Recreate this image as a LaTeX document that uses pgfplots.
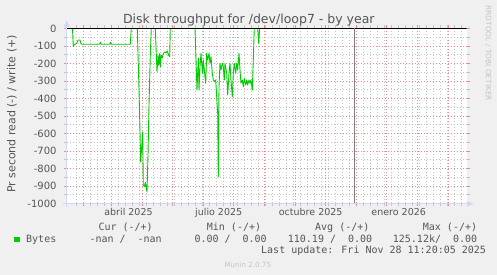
\documentclass[border=0pt]{standalone}
\usepackage{pgfplots}
\pgfplotsset{compat=1.18}
\usepackage{fontspec}
\setmainfont{DejaVu Sans}
\newfontfamily\monofont{DejaVu Sans Mono}
\definecolor{bgcol}{HTML}{F0F0F0}
\definecolor{axiscol}{HTML}{CFD6F8}
\definecolor{fontcol}{HTML}{555555}
\definecolor{mgrid}{RGB}{232,140,140}
\definecolor{mingrid}{RGB}{195,195,195}
\definecolor{mgreen}{HTML}{00CC00}
\definecolor{wmark}{HTML}{C4C4C4}
\definecolor{nowcol}{HTML}{7F7F7F}
\begin{document}
\begin{tikzpicture}
\fill[bgcol] (0,0) rectangle (497bp,275bp);
\path[use as bounding box] (0,0) rectangle (497bp,275bp);
\begin{axis}[
  at={(66.7bp,71.7bp)}, anchor=south west,
  scale only axis, width=400bp, height=175bp,
  xmin=14, xmax=414, ymin=-1000, ymax=0,
  axis background/.style={fill=white},
  axis line style={draw=none},
  xtick={31,59,90,120,151,181,212,243,273,304,334,365,396},
  xticklabels={,,,,,,,,,,,,},
  minor xtick={23.3,30.3,...,410},
  ytick={-1000,-900,...,0},
  yticklabels={-1000,-900,-800,-700,-600,-500,-400,-300,-200,-100,0},
  minor ytick={-950,-850,...,-50},
  grid=both,
  major grid style={draw=mgrid, line width=0.5bp, dash pattern=on 1bp off 2bp},
  minor grid style={draw=mingrid, line width=0.5bp, dash pattern=on 1bp off 2bp},
  tick align=outside,
  major tick length=3bp, minor tick length=3bp,
  major tick style={draw=mgrid, line width=0.5bp},
  minor tick style={draw=mingrid, line width=0.5bp},
  extra x ticks={75.8,166,258,346},
  extra x tick labels={abril 2025,julio 2025,octubre 2025,enero 2026},
  extra x tick style={grid=none, major tick length=0pt, tick style={draw=none}},
  xticklabel style={font=\fontsize{9.5bp}{11bp}\selectfont, text=fontcol, anchor=base, inner sep=0pt, yshift=-11.7bp},
  yticklabel style={font=\fontsize{10bp}{12bp}\selectfont, text=fontcol, anchor=base east, inner sep=0pt, xshift=-7bp, yshift=-3.8bp},
]
\addplot[mgreen, line width=0.9bp, line join=round] coordinates {
(19.8,0) (20.6,-105) (21.3,-95) (24,-86) (25.6,-67) (27.3,-67) (28.3,-88) (29,-91)
(47,-91) (47.6,-80) (48.6,-91) (57,-91) (57.6,-80) (58.6,-91) (77.6,-91) (78.6,0)
(84.6,0) (86.3,-345) (88,-764) (90,-593) (90.6,-897) (91.8,-905) (92.6,-880) (93.3,-900)
(94.3,-935) (95.3,-726) (96.3,-440) (97.6,-154) (98.6,0) (102.6,0) (104.3,-250) (105.3,-154)
(106,-211) (107,-145) (107.6,-220) (108.6,-154) (109.6,-170) (110.6,-145) (112,-135)
(113.3,-140) (114.6,-130) (116,-154) (117,-163) (117.6,0)
(142.3,0) (144.3,-353) (145.6,-171) (146.3,-353) (147.3,-219) (148.3,-143) (149,-200)
(150,-257) (150.6,-181) (151.6,-238) (153,-314) (154,-143) (155,-181) (156.3,-143)
(157.3,-200) (158.3,-162) (159.6,-257) (160.6,-295) (161.6,-305) (163,-295) (164,-391)
(165,-486) (165.6,-848) (166.3,-334) (167.3,-200) (168.3,-238) (169.6,-200) (170.6,-219)
(171.6,-295) (172.3,-200) (174,-257) (175,-381) (176.3,-257) (177.3,-200) (178.3,-295)
(179.6,-391) (180.6,-257) (181.6,-200) (183,-257) (184,-200) (185,-238) (186.3,-143)
(187.3,-238) (188.3,-314) (189.6,-295) (190.6,-334) (191.6,-286) (193,-324) (194,-295)
(195,-324) (196.3,-295) (197.3,-314) (198.3,-295) (199.6,-353) (200.6,-181) (201.6,0)
(205,0) (206,-86) (207,0)
};
\draw[black, line width=1.1bp] (axis cs:14,0) -- (axis cs:414,0);
\draw[nowcol, line width=1bp] (axis cs:301.6,-1000) -- (axis cs:301.6,0);
\end{axis}
% axes with arrows
\draw[axiscol, line width=1bp] (63bp,71.2bp) -- (467bp,71.2bp);
\fill[axiscol] (467bp,68.2bp) -- (473.5bp,71.2bp) -- (467bp,74.2bp) -- cycle;
\draw[axiscol, line width=1bp] (66.7bp,68bp) -- (66.7bp,248bp);
\fill[axiscol] (63.7bp,248bp) -- (66.7bp,254.5bp) -- (69.7bp,248bp) -- cycle;
% titles
\node[anchor=base, inner sep=0pt, font=\fontsize{12.5bp}{14bp}\selectfont, text=fontcol] at (248.8bp,251.7bp) {Disk throughput for /dev/loop7 - by year};
\node[rotate=90, inner sep=0pt, font=\fontsize{11bp}{13bp}\selectfont, text=fontcol] at (12bp,161bp) {Pr second read (-) / write (+)};
\node[rotate=-90, inner sep=0pt, font=\fontsize{7.4bp}{9bp}\selectfont, text=wmark] at (488.3bp,221.7bp) {RRDTOOL / TOBI OETIKER};
% legend
\begin{scope}[every node/.style={anchor=base west, inner sep=0pt, font=\monofont\fontsize{10bp}{12bp}\selectfont, text=fontcol}]
\node at (98.3bp,44.5bp) {Cur (-/+)};
\node at (206.7bp,44.5bp) {Min (-/+)};
\node at (315bp,44.5bp) {Avg (-/+)};
\node at (422.7bp,44.5bp) {Max (-/+)};
\fill[mgreen] (14bp,32.7bp) rectangle (20bp,38.3bp);
\node at (26bp,33bp) {Bytes};
\node at (89.3bp,33bp) {-nan /\ \ -nan};
\node at (194.3bp,33bp) {0.00 /\ \ 0.00};
\node at (287.7bp,33bp) {110.19 /\ \ 0.00};
\node at (392.7bp,33bp) {125.12k/\ \ 0.00};
\node at (261bp,21.5bp) {Last update: Fri Nov 28 11:20:05 2025};
\end{scope}
\node[anchor=base, inner sep=0pt, font=\fontsize{7.1bp}{9bp}\selectfont, text=wmark] at (247.8bp,8bp) {Munin 2.0.75};
\end{tikzpicture}
\end{document}
